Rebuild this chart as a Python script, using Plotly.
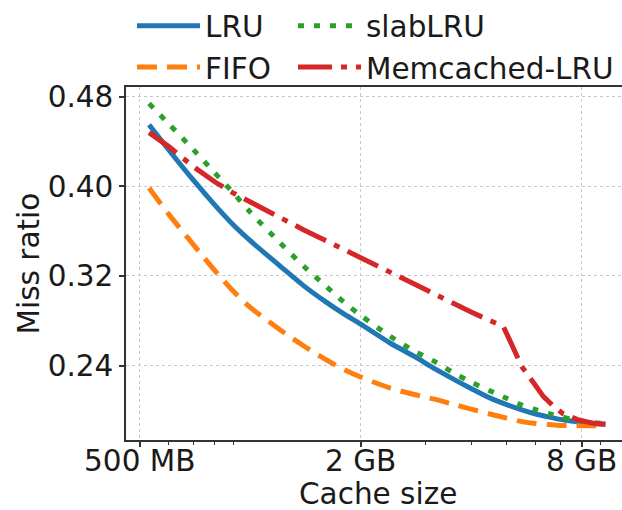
import plotly.graph_objects as go

# cache sizes in MB
cache_mb = [530, 600, 700, 800, 900, 1000, 1200, 1400, 1600, 1800, 2000, 2400, 2800,
            3200, 3600, 4000, 4500, 5000, 5500, 6000, 6500, 7000, 7500, 8000, 8600, 9300]
lru = [0.455, 0.4325, 0.4055, 0.3835, 0.3655, 0.3515, 0.3295, 0.3112, 0.2973, 0.2861, 0.2770,
       0.2604, 0.2482, 0.2368, 0.2275, 0.2196, 0.2112, 0.2052, 0.2005, 0.1968, 0.1942,
       0.1920, 0.1905, 0.1893, 0.1883, 0.1877]
fifo = [0.3986, 0.375, 0.348, 0.325, 0.3063, 0.292, 0.2725, 0.2575, 0.2458, 0.2365, 0.2298,
        0.2201, 0.2142, 0.2098, 0.2052, 0.2012, 0.1968, 0.1931, 0.19, 0.1883, 0.1874,
        0.1866, 0.1864, 0.1863, 0.1863, 0.1863]
slab_lru = [0.474, 0.4557, 0.4328, 0.4121, 0.394, 0.377, 0.3503, 0.3287, 0.3116, 0.2966,
            0.2849, 0.2665, 0.253, 0.2432, 0.2332, 0.2253, 0.2175, 0.2108, 0.2048, 0.2007,
            0.1973, 0.1945, 0.1922, 0.1905, 0.1892, 0.1882]
memc_mb = [530, 600, 700, 800, 900, 1000, 1200, 1400, 1600, 2000, 2400, 2800, 3200, 3600,
           4000, 4500, 4900, 5100, 5300, 5500, 6000, 6300, 6700, 7100, 7900, 8600, 9300]
memc_lru = [0.448, 0.4355, 0.4176, 0.4041, 0.394, 0.386, 0.3722, 0.3611, 0.3519, 0.3366,
            0.3237, 0.3129, 0.3035, 0.2952, 0.2878, 0.2805, 0.2748, 0.2625, 0.2505, 0.2391,
            0.222, 0.2123, 0.204, 0.1974, 0.1912, 0.1885, 0.1877]

x_tick_vals = [500, 2000, 8000]
x_tick_text = ["500 MB", "2 GB", "8 GB"]
x_minor_vals = [600, 700, 800, 900, 3000, 4000, 5000, 6000, 7000, 9000]
y_tick_vals = [0.24, 0.32, 0.40, 0.48]
y_tick_text = ["0.24", "0.32", "0.40", "0.48"]
x_title = "Cache size"
y_title = "Miss ratio"

FONT = "DejaVu Sans"
TXT = "#1a1a1a"
FS = 29.5
LW = 5

fig = go.Figure()
fig.add_trace(go.Scatter(x=cache_mb, y=lru, mode="lines", name="LRU",
                         line=dict(color="#1f77b4", width=LW, shape="spline", smoothing=0.8),
                         legend="legend"))
fig.add_trace(go.Scatter(x=cache_mb, y=fifo, mode="lines", name="FIFO",
                         line=dict(color="#ff7f0e", width=LW, dash="20px,10px",
                                   shape="spline", smoothing=0.8),
                         legend="legend"))
fig.add_trace(go.Scatter(x=cache_mb, y=slab_lru, mode="lines", name="slabLRU",
                         line=dict(color="#2ca02c", width=LW, dash="6px,10px",
                                   shape="spline", smoothing=0.8),
                         legend="legend2"))
fig.add_trace(go.Scatter(x=memc_mb, y=memc_lru, mode="lines", name="Memcached-LRU",
                         line=dict(color="#d62728", width=LW, dash="34px,9px,6px,9px"),
                         legend="legend2"))

W, H = 622, 510
ML, MR, MT, MB = 126, 0, 87, 70
PW, PH = W - ML - MR, H - MT - MB


def px_x(px):
    return (px - ML) / PW


def px_y(py):
    return (H - MB - py) / PH


legend_common = dict(
    xref="container", yref="container", xanchor="left", yanchor="top",
    orientation="v", bgcolor="rgba(0,0,0,0)", borderwidth=0,
    font=dict(family=FONT, size=FS, color=TXT), itemwidth=63,
    tracegroupgap=0,
)
fig.update_layout(
    width=W, height=H,
    margin=dict(l=ML, r=MR, t=MT, b=MB, autoexpand=False),
    paper_bgcolor="white", plot_bgcolor="white",
    font=dict(family=FONT, size=FS, color=TXT),
    legend=dict(x=132 / W, y=1.0, **legend_common),
    legend2=dict(x=293 / W, y=1.0, **legend_common),
    xaxis=dict(
        type="log", range=[2.6614, 4.0134], automargin=False,
        tickmode="array", tickvals=x_tick_vals, ticktext=x_tick_text,
        ticks="outside", ticklen=5, tickwidth=1.5, tickcolor="#333",
        ticklabelstandoff=-11,
        showline=True, linecolor="#333", linewidth=1.5, mirror=True,
        showgrid=True, gridcolor="#c8c8c8", gridwidth=1, griddash="dot",
        zeroline=False,
        minor=dict(tickmode="array", tickvals=x_minor_vals, ticks="outside",
                   ticklen=3, tickwidth=1.2, tickcolor="#333", showgrid=False),
        tickfont=dict(size=FS),
    ),
    yaxis=dict(
        range=[0.1736, 0.4887], automargin=False,
        tickmode="array", tickvals=y_tick_vals, ticktext=y_tick_text,
        ticks="outside", ticklen=5, tickwidth=1.5, tickcolor="#333",
        showline=True, linecolor="#333", linewidth=1.5, mirror=False,
        showgrid=True, gridcolor="#c8c8c8", gridwidth=1, griddash="dot",
        zeroline=False,
        tickfont=dict(size=FS),
    ),
    annotations=[
        dict(text=x_title, xref="paper", yref="paper", x=px_x(378), y=px_y(494),
             xanchor="center", yanchor="middle", showarrow=False,
             font=dict(family=FONT, size=FS, color=TXT)),
        dict(text=y_title, xref="paper", yref="paper", x=px_x(28), y=0.5,
             xanchor="center", yanchor="middle", textangle=-90, showarrow=False,
             font=dict(family=FONT, size=FS, color=TXT)),
    ],
    showlegend=True,
)

fig.write_html("out.html")
